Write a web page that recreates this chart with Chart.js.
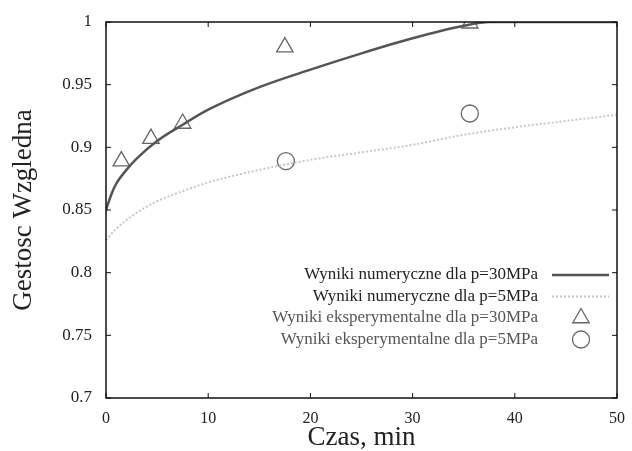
<!DOCTYPE html>
<html>
<head>
<meta charset="utf-8">
<script src="https://cdn.jsdelivr.net/npm/chart.js@4"></script>
<style>
  html, body { margin: 0; padding: 0; background: #fff; }
  #wrap { width: 632px; height: 451px; }
</style>
</head>
<body>
<div id="wrap"><canvas id="wykres" width="632" height="451"></canvas></div>
<script>
// wyniki numeryczne
const czasNum30 = [0, 0.5, 1, 2, 3, 5, 7.5, 10, 15, 20, 25, 30, 35, 37.5, 50];
const gestNum30 = [0.850, 0.862, 0.871, 0.882, 0.891, 0.905, 0.918, 0.930, 0.948, 0.962, 0.975, 0.987, 0.997, 1.0, 1.0];
const czasNum5 = [0, 1, 2.5, 5, 7.5, 10, 15, 20, 25, 30, 35, 40, 45, 50];
const gestNum5 = [0.826, 0.835, 0.845, 0.857, 0.865, 0.872, 0.882, 0.890, 0.896, 0.902, 0.910, 0.916, 0.921, 0.926];
// wyniki eksperymentalne
const czasExp30 = [1.5, 4.4, 7.5, 17.5, 35.6];
const gestExp30 = [0.889, 0.907, 0.919, 0.980, 0.999];
const czasExp5 = [17.6, 35.6];
const gestExp5 = [0.889, 0.927];
const etykiety = [
  'Wyniki numeryczne dla p=30MPa',
  'Wyniki numeryczne dla p=5MPa',
  'Wyniki eksperymentalne dla p=30MPa',
  'Wyniki eksperymentalne dla p=5MPa'
];

const pary = (xs, ys) => xs.map((x, i) => ({ x: x, y: ys[i] }));
const serif = 'Liberation Serif';

// ramka z krotkimi kreskami do wewnatrz
const ramka = {
  id: 'ramka',
  afterDatasetsDraw(chart) {
    const c = chart.ctx, a = chart.chartArea;
    const sx = chart.scales.x, sy = chart.scales.y;
    c.save();
    c.strokeStyle = '#111';
    c.lineWidth = 1.5;
    c.strokeRect(a.left, a.top, a.right - a.left, a.bottom - a.top);
    c.lineWidth = 1;
    sx.ticks.forEach(t => {
      const px = sx.getPixelForValue(t.value);
      c.beginPath();
      c.moveTo(px, a.bottom); c.lineTo(px, a.bottom - 5);
      c.moveTo(px, a.top); c.lineTo(px, a.top + 5);
      c.stroke();
    });
    sy.ticks.forEach(t => {
      const py = sy.getPixelForValue(t.value);
      c.beginPath();
      c.moveTo(a.left, py); c.lineTo(a.left + 5, py);
      c.moveTo(a.right, py); c.lineTo(a.right - 5, py);
      c.stroke();
    });
    c.restore();
  }
};

// legenda wewnatrz wykresu, tekst wyrownany do prawej
const legenda = {
  id: 'legenda',
  afterDraw(chart) {
    const c = chart.ctx;
    const tekstX = 538, probkaX = 581, y0 = 275, krok = 21.5;
    c.save();
    c.font = '17px "' + serif + '"';
    c.textAlign = 'right';
    c.textBaseline = 'middle';
    chart.data.datasets.forEach((ds, i) => {
      const y = y0 + i * krok;
      c.fillStyle = i < 2 ? '#222' : '#555';
      c.fillText(ds.label, tekstX, y);
      if (ds.type === 'line') {
        c.strokeStyle = ds.borderColor;
        c.lineWidth = ds.borderWidth;
        c.setLineDash(ds.borderDash || []);
        c.beginPath();
        c.moveTo(552, y); c.lineTo(609, y);
        c.stroke();
        c.setLineDash([]);
      } else {
        c.strokeStyle = ds.borderColor;
        c.fillStyle = '#fff';
        c.lineWidth = ds.borderWidth;
        Chart.helpers.drawPoint(c, { pointStyle: ds.pointStyle, radius: ds.pointRadius, borderWidth: ds.borderWidth }, probkaX, y);
      }
    });
    c.restore();
  }
};

const ctx = document.getElementById('wykres').getContext('2d');
new Chart(ctx, {
  data: {
    datasets: [{
      type: 'line',
      label: etykiety[0],
      data: pary(czasNum30, gestNum30),
      borderColor: '#555',
      borderWidth: 2.5,
      pointRadius: 0,
      cubicInterpolationMode: 'monotone'
    }, {
      type: 'line',
      label: etykiety[1],
      data: pary(czasNum5, gestNum5),
      borderColor: '#c8c8c8',
      borderWidth: 2,
      borderDash: [2, 2],
      pointRadius: 0,
      cubicInterpolationMode: 'monotone'
    }, {
      type: 'scatter',
      label: etykiety[2],
      data: pary(czasExp30, gestExp30),
      pointStyle: 'triangle',
      pointRadius: 9.5,
      borderColor: '#666',
      backgroundColor: 'rgba(255,255,255,0)',
      borderWidth: 1.3
    }, {
      type: 'scatter',
      label: etykiety[3],
      data: pary(czasExp5, gestExp5),
      pointStyle: 'circle',
      pointRadius: 8.5,
      borderColor: '#666',
      backgroundColor: 'rgba(255,255,255,0)',
      borderWidth: 1.3
    }]
  },
  options: {
    responsive: false,
    animation: false,
    layout: { padding: { left: 8, top: 22, right: 15, bottom: 0 } },
    plugins: {
      legend: { display: false },
      tooltip: { enabled: false }
    },
    scales: {
      x: {
        type: 'linear',
        min: 0, max: 50,
        grid: { display: false },
        border: { display: false },
        ticks: { stepSize: 10, color: '#222', padding: 3, font: { family: serif, size: 16 } },
        title: { display: true, text: 'Czas, min', color: '#222', padding: 0, font: { family: serif, size: 27, lineHeight: 1 } },
        afterFit: s => { s.height = 53; }
      },
      y: {
        type: 'linear',
        min: 0.7, max: 1,
        grid: { display: false },
        border: { display: false },
        ticks: {
          stepSize: 0.05, color: '#222', padding: 6,
          font: { family: serif, size: 17 },
          callback: v => String(+v.toFixed(2))
        },
        title: { display: true, text: 'Gestosc Wzgledna', color: '#222', padding: 0, font: { family: serif, size: 27 } },
        afterFit: s => { s.width = 98; }
      }
    }
  },
  plugins: [ramka, legenda]
});
</script>
</body>
</html>
